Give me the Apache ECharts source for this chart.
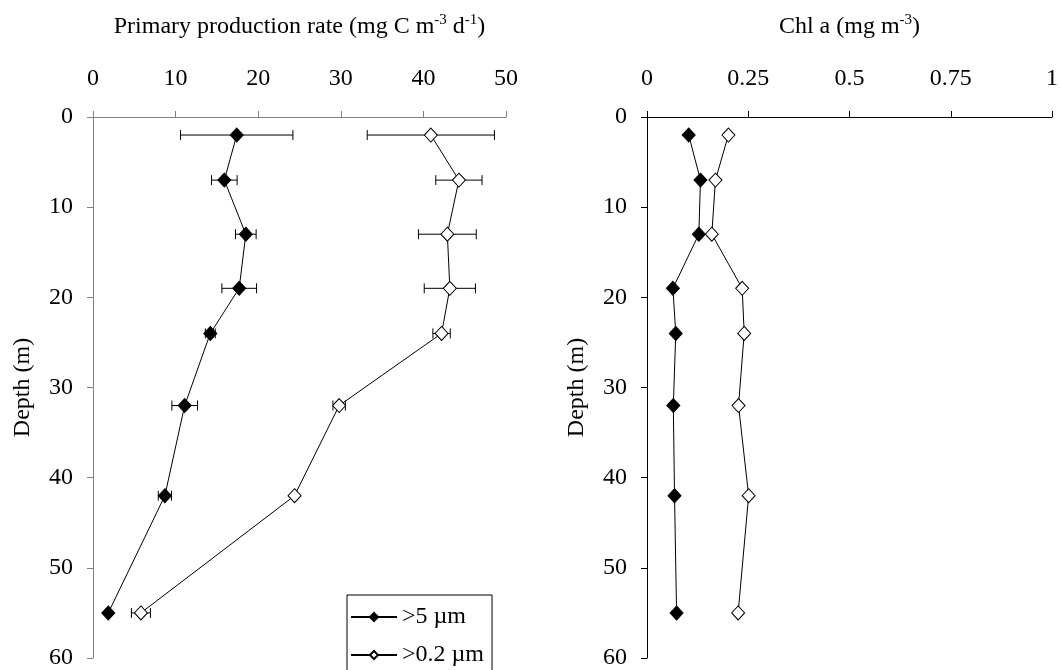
<!DOCTYPE html>
<html><head><meta charset="utf-8">
<script src="https://cdn.jsdelivr.net/npm/echarts@6/dist/echarts.min.js"></script>
<style>html,body{margin:0;padding:0;background:#fff}#c{width:1061px;height:670px}</style>
</head><body><div id="c"></div>
<script>
const depths = [2, 7, 13, 19, 24, 32, 42, 55];
const pp5 = [17.4, 15.9, 18.5, 17.7, 14.2, 11.1, 8.7, 1.85];
const pp5Err = [6.8, 1.55, 1.25, 2.1, 0.6, 1.55, 0.8, 0];
const pp02 = [40.9, 44.3, 42.9, 43.2, 42.2, 29.8, 24.4, 5.8];
const pp02Err = [7.7, 2.8, 3.5, 3.1, 1.05, 0.75, 0, 1.15];
const chl5 = [0.103, 0.132, 0.128, 0.064, 0.071, 0.065, 0.068, 0.073];
const chl02 = [0.201, 0.169, 0.160, 0.235, 0.240, 0.226, 0.251, 0.225];
const seriesNames = ['>5 \u00b5m', '>0.2 \u00b5m'];

const FONT = "'Liberation Serif', 'Times New Roman', serif";
const FS = 24;

function pairs(xs) { return xs.map((x, i) => [x, depths[i]]); }
function errData(xs, es) { return xs.map((x, i) => [x - es[i], x + es[i], depths[i]]).filter((d, i) => es[i] > 0); }

function errSeries(data) {
  return {
    type: 'custom', xAxisIndex: 0, yAxisIndex: 0, z: 1, silent: true,
    data: data,
    encode: { x: [0, 1], y: 2 },
    renderItem: function (params, api) {
      const a = api.coord([api.value(0), api.value(2)]);
      const b = api.coord([api.value(1), api.value(2)]);
      const h = 5;
      const st = { stroke: '#000', lineWidth: 1 };
      return { type: 'group', children: [
        { type: 'line', shape: { x1: a[0], y1: a[1], x2: b[0], y2: b[1] }, style: st },
        { type: 'line', shape: { x1: a[0], y1: a[1] - h, x2: a[0], y2: a[1] + h }, style: st },
        { type: 'line', shape: { x1: b[0], y1: b[1] - h, x2: b[0], y2: b[1] + h }, style: st }
      ]};
    }
  };
}

function lineSeries(name, data, idx, filled) {
  return {
    name: name, type: 'line', xAxisIndex: idx, yAxisIndex: idx, z: 3,
    data: data, symbol: 'diamond', symbolSize: [13, 14], showSymbol: true,
    lineStyle: { color: '#000', width: 1 },
    itemStyle: filled ? { color: '#000', borderColor: '#000', borderWidth: 1 }
                      : { color: '#fff', borderColor: '#000', borderWidth: 1 },
    emphasis: { disabled: true }, animation: false
  };
}

function xAxis(idx, max, interval, name, color) {
  return {
    type: 'value', gridIndex: idx, position: 'top', min: 0, max: max, interval: interval,
    name: name, nameLocation: 'middle', nameGap: 76,
    nameTextStyle: { fontFamily: FONT, fontSize: FS, color: '#000', lineHeight: 28,
      rich: { sup: { fontFamily: FONT, fontSize: 15, verticalAlign: 'top', lineHeight: 13, color: '#000' } } },
    axisLine: { show: true, lineStyle: { color: color, width: 1 } },
    axisTick: { show: true, inside: false, length: 6, lineStyle: { color: color } },
    axisLabel: { fontFamily: FONT, fontSize: FS, color: '#000', margin: 26 },
    splitLine: { show: false }
  };
}
function yAxis(idx, color, gap) {
  return {
    type: 'value', gridIndex: idx, inverse: true, min: 0, max: 60, interval: 10,
    name: 'Depth (m)', nameLocation: 'middle', nameGap: gap, nameRotate: 90,
    nameTextStyle: { fontFamily: FONT, fontSize: FS, color: '#000' },
    axisLine: { show: true, onZero: false, lineStyle: { color: color, width: 1 } },
    axisTick: { show: true, length: 6, lineStyle: { color: color } },
    axisLabel: { fontFamily: FONT, fontSize: FS, color: '#000', margin: 20 },
    splitLine: { show: false }
  };
}

const chart = echarts.init(document.getElementById('c'), null, { renderer: 'canvas' });
chart.setOption({
  animation: false,
  backgroundColor: '#fff',
  grid: [
    { left: 93, right: 555, top: 117, bottom: 10 },
    { left: 647, right: 5, top: 117, bottom: 10 }
  ],
  xAxis: [
    xAxis(0, 50, 10, 'Primary production rate (mg C m{sup|-3} d{sup|-1})', '#808080'),
    xAxis(1, 1, 0.25, 'Chl a (mg m{sup|-3})', '#000')
  ],
  yAxis: [yAxis(0, '#808080', 58), yAxis(1, '#000', 58)],
  legend: {
    data: seriesNames, orient: 'vertical', left: 347, top: 595, height: 100,
    backgroundColor: '#fff', borderColor: '#000', borderWidth: 1,
    padding: [10, 8, 6, 3], itemWidth: 46, itemHeight: 10, itemGap: 14,
    textStyle: { fontFamily: FONT, fontSize: FS, color: '#000' },
    selectedMode: false
  },
  series: [
    errSeries(errData(pp5, pp5Err)),
    errSeries(errData(pp02, pp02Err)),
    lineSeries(seriesNames[0], pairs(pp5), 0, true),
    lineSeries(seriesNames[1], pairs(pp02), 0, false),
    lineSeries(seriesNames[0], pairs(chl5), 1, true),
    lineSeries(seriesNames[1], pairs(chl02), 1, false)
  ]
});
</script></body></html>
